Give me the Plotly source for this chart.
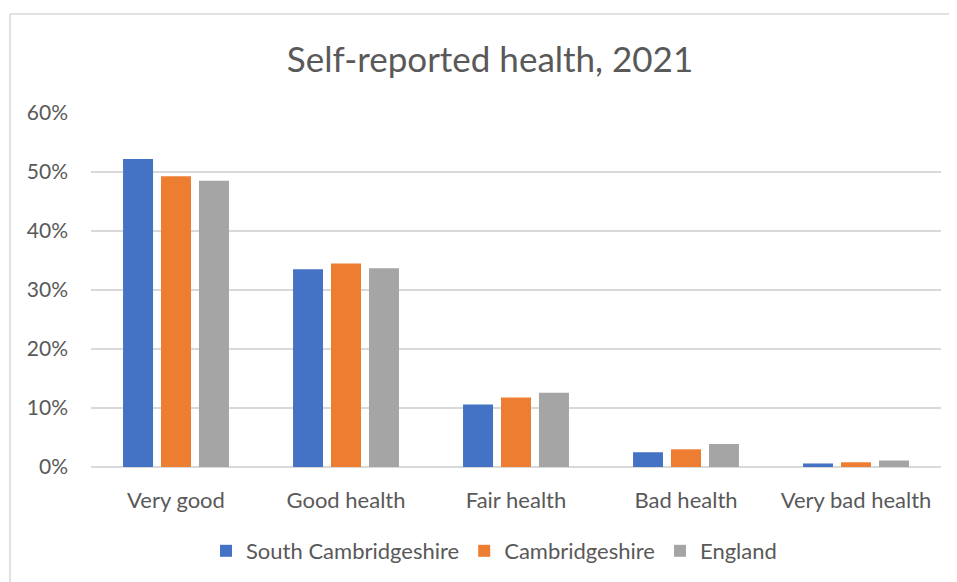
import plotly.graph_objects as go

categories = ["Very good", "Good health", "Fair health", "Bad health", "Very bad health"]
south_cambs = [52.2, 33.5, 10.6, 2.5, 0.6]
cambs = [49.3, 34.5, 11.8, 3.0, 0.8]
england = [48.5, 33.7, 12.6, 3.9, 1.1]
series_names = ["South Cambridgeshire", "Cambridgeshire", "England"]
colors = ["#4472C4", "#ED7D31", "#A5A5A5"]
y_ticks = [0, 10, 20, 30, 40, 50, 60]

FONT = "Lato, 'Open Sans', sans-serif"
TXT = "#595959"

fig = go.Figure()
for name, vals, col in zip(series_names, [south_cambs, cambs, england], colors):
    fig.add_trace(go.Bar(x=categories, y=vals, name=name, marker=dict(color=col, line=dict(width=0))))

# page body has an 8px margin; figure coordinates are reference minus 8
OFF = 8
W, H = 957 - OFF, 582 - OFF
L, T = 91 - OFF, 113 - OFF
pw, ph = 941 - 91, 467 - 113
R, B = W - L - pw, H - T - ph

fig.update_layout(
    width=W, height=H,
    margin=dict(l=L, r=R, t=T, b=B, autoexpand=False),
    paper_bgcolor="white", plot_bgcolor="white",
    barmode="group", bargap=0.33, bargroupgap=0.21,
    title=dict(text="Self-reported health, 2021", x=(490 - OFF) / W, xanchor="center",
               y=1 - (60 - OFF) / H, yanchor="middle", yref="container",
               font=dict(family=FONT, size=35, color=TXT)),
    font=dict(family=FONT, color=TXT),
    xaxis=dict(showgrid=False, showline=False, ticks="", tickfont=dict(size=22, color=TXT),
               ticklabelstandoff=18),
    yaxis=dict(range=[0, 60], tickvals=y_ticks, ticktext=[f"{v}%" for v in y_ticks],
               showgrid=True, gridcolor="#D9D9D9", gridwidth=1.5, zeroline=True, zerolinecolor="#D9D9D9",
               zerolinewidth=1.5, showline=False, ticks="", tickfont=dict(size=21, color=TXT),
               ticklabelstandoff=22),
    legend=dict(orientation="h", x=(494 - 91) / pw, xanchor="center", y=-(551 - 467) / ph, yanchor="middle",
                font=dict(size=22, color=TXT), itemwidth=30, traceorder="normal"),
    showlegend=True,
)

# chart frame (top and left edges visible)
fx = (10 - 91) / pw
fy = 1 + (113 - 14) / ph
fig.add_shape(type="line", xref="paper", yref="paper", x0=fx, x1=(960 - 91) / pw,
              y0=fy, y1=fy, line=dict(color="#D9D9D9", width=1.5))
fig.add_shape(type="line", xref="paper", yref="paper", x0=fx, x1=fx,
              y0=fy, y1=-(600 - 467) / ph, line=dict(color="#D9D9D9", width=1.5))

fig.write_html("out.html")
